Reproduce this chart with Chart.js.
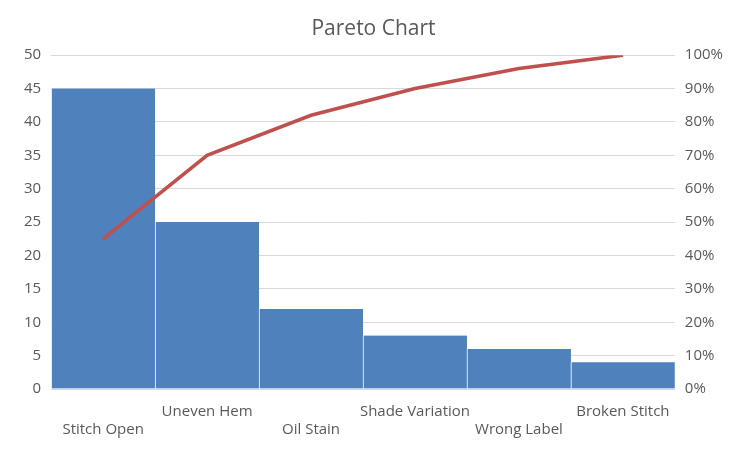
<!DOCTYPE html>
<html>
<head>
<meta charset="utf-8">
<script src="https://cdn.jsdelivr.net/npm/chart.js@4"></script>
<style>
  html, body { margin: 0; padding: 0; background: #fff; }
  #wrap { width: 751px; height: 451px; }
</style>
</head>
<body>
<div id="wrap"><canvas id="pareto"></canvas></div>
<script>
const categories = ['Stitch Open', 'Uneven Hem', 'Oil Stain', 'Shade Variation', 'Wrong Label', 'Broken Stitch'];
const defects = [45, 25, 12, 8, 6, 4];
const cumulativePct = [45, 70, 82, 90, 96, 100];

Chart.defaults.font.family = '"Open Sans", "Liberation Sans", sans-serif';
Chart.defaults.color = '#595959';

const ctx = document.getElementById('pareto').getContext('2d');
new Chart(ctx, {
  data: {
    labels: categories,
    datasets: [
      {
        type: 'line',
        data: cumulativePct,
        yAxisID: 'y2',
        borderColor: '#C0504D',
        borderWidth: 3.5,
        pointRadius: 0,
        tension: 0,
        order: 0
      },
      {
        type: 'bar',
        data: defects,
        yAxisID: 'y',
        backgroundColor: '#4F81BD',
        borderColor: '#ffffff',
        borderWidth: { left: 1, right: 0, top: 0, bottom: 0 },
        categoryPercentage: 1.0,
        barPercentage: 1.0,
        order: 1
      }
    ]
  },
  options: {
    responsive: true,
    maintainAspectRatio: false,
    animation: false,
    layout: { padding: { left: 14, right: 18, top: 8, bottom: 6 } },
    plugins: {
      legend: { display: false },
      tooltip: { enabled: false },
      title: {
        display: true,
        text: 'Pareto Chart',
        font: { size: 21, weight: 'normal' },
        color: '#595959',
        padding: { top: 8, bottom: 14 }
      }
    },
    scales: {
      x: {
        grid: { display: false },
        border: { color: '#d9d9d9' },
        ticks: {
          font: { size: 15 },
          maxRotation: 0,
          autoSkip: false,
          padding: 6,
          callback: function (v, i) {
            const name = categories[i];
            return i % 2 === 0 ? [' ', name] : [name, ' '];
          }
        }
      },
      y: {
        position: 'left',
        min: 0, max: 50,
        ticks: { stepSize: 5, font: { size: 15 }, padding: 10 },
        grid: { color: '#d9d9d9', drawTicks: false },
        border: { display: false }
      },
      y2: {
        position: 'right',
        min: 0, max: 100,
        ticks: { stepSize: 10, font: { size: 15 }, padding: 10, callback: v => v + '%' },
        grid: { display: false, drawTicks: false },
        border: { display: false }
      }
    }
  }
});
</script>
</body>
</html>
